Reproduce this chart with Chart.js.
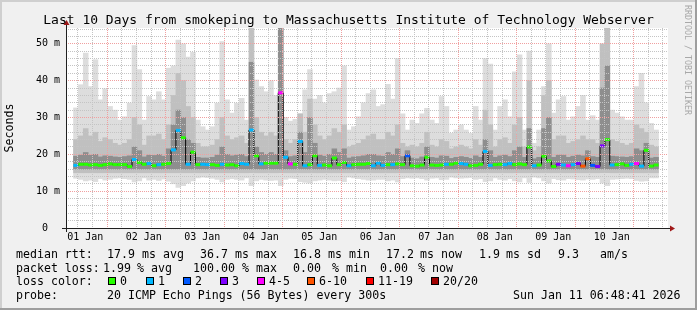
<!DOCTYPE html>
<html>
<head>
<meta charset="utf-8">
<script src="https://cdn.jsdelivr.net/npm/chart.js@4/dist/chart.umd.min.js"></script>
<style>
  html, body { margin: 0; padding: 0; background: #f0f0f0; }
  #wrap { position: relative; width: 697px; height: 310px; overflow: hidden; }
  #wrap canvas { position: absolute; left: 0; top: 0; }
  .t { position: absolute; font-family: "DejaVu Sans Mono", monospace; font-size: 11.6px; line-height: 14px; color: #000; white-space: pre; }
  #title { left: 0; width: 697px; top: 12px; text-align: center; font-size: 13px; line-height: 15px; }
  #credit { position: absolute; left: 683px; top: 5px; writing-mode: vertical-rl; font: 8.3px "DejaVu Sans Mono", monospace; color: #a8a8a8; white-space: pre; }
  .box { position: absolute; top: 277px; width: 6px; height: 6px; border: 1px solid #000; }
</style>
</head>
<body>
<div id="wrap">
  <canvas id="c" width="697" height="310"></canvas>
  <div class="t" id="title">Last 10 Days from smokeping to Massachusetts Institute of Technology Webserver</div>
  <div id="credit">RRDTOOL / TOBI OETIKER</div>

  <div class="t" style="left:16px;top:247px">median rtt:</div>
  <div class="t" style="left:107px;top:247px">17.9</div>
  <div class="t" style="left:142px;top:247px">ms avg</div>
  <div class="t" style="left:200px;top:247px">36.7</div>
  <div class="t" style="left:235px;top:247px">ms max</div>
  <div class="t" style="left:293px;top:247px">16.8</div>
  <div class="t" style="left:328px;top:247px">ms min</div>
  <div class="t" style="left:386px;top:247px">17.2</div>
  <div class="t" style="left:420px;top:247px">ms now</div>
  <div class="t" style="left:479px;top:247px">1.9</div>
  <div class="t" style="left:506px;top:247px">ms sd</div>
  <div class="t" style="left:558px;top:247px">9.3</div>
  <div class="t" style="left:600px;top:247px">am/s</div>

  <div class="t" style="left:16px;top:261px">packet loss:</div>
  <div class="t" style="left:103px;top:261px">1.99</div>
  <div class="t" style="left:137px;top:261px">% avg</div>
  <div class="t" style="left:193px;top:261px">100.00</div>
  <div class="t" style="left:242px;top:261px">% max</div>
  <div class="t" style="left:293px;top:261px">0.00</div>
  <div class="t" style="left:332px;top:261px">% min</div>
  <div class="t" style="left:380px;top:261px">0.00</div>
  <div class="t" style="left:418px;top:261px">% now</div>

  <div class="t" style="left:16px;top:274px">loss color:</div>
  <div id="losslegend"></div>

  <div class="t" style="left:16px;top:288px">probe:</div>
  <div class="t" style="left:107px;top:288px">20 ICMP Echo Pings (56 Bytes) every 300s</div>
  <div class="t" style="left:513px;top:288px">Sun Jan 11 06:48:41 2026</div>
</div>
<script>
// 120 bins of 2 h each, starting 01 Jan 07:12
const dayLabels = ['01 Jan', '02 Jan', '03 Jan', '04 Jan', '05 Jan', '06 Jan', '07 Jan', '08 Jan', '09 Jan', '10 Jan'];
const yTicks = [0, 2, 4, 6, 8, 10, 12, 14, 16, 18, 20, 22, 24, 26, 28, 30, 32, 34, 36, 38, 40, 42, 44, 46, 48, 50, 52, 54];

// median rtt (ms)
const median = [
  17.0, 17.3, 17.3, 17.1, 17.2, 17.0, 17.2, 17.4, 17.2, 17.2,
  17.2, 16.7, 18.6, 17.8, 17.3, 17.5, 16.9, 17.2, 17.3, 17.5,
  21.2, 26.5, 24.5, 17.3, 20.6, 17.2, 17.3, 17.2, 17.2, 17.0,
  17.3, 17.1, 17.2, 16.9, 17.5, 17.3, 26.6, 19.6, 17.4, 17.6,
  17.6, 17.6, 36.7, 19.2, 17.4, 17.3, 23.5, 16.9, 17.2, 19.6,
  17.0, 17.1, 16.9, 19.0, 17.2, 17.8, 16.9, 17.2, 17.3, 17.3,
  17.5, 16.9, 17.6, 17.0, 17.2, 17.2, 17.4, 17.2, 19.6, 16.9,
  16.8, 17.1, 19.2, 17.1, 17.0, 17.1, 17.3, 17.3, 17.6, 17.5,
  17.3, 16.9, 17.0, 17.3, 20.8, 17.0, 17.2, 17.3, 17.2, 17.5,
  17.2, 17.4, 17.2, 22.0, 16.9, 17.1, 19.5, 18.2, 16.7, 17.3,
  17.1, 16.9, 17.2, 17.5, 16.8, 18.8, 17.0, 16.7, 22.3, 24.0,
  17.1, 17.2, 17.4, 17.0, 17.3, 17.5, 16.8, 21.1, 16.8, 17.1
];
// loss class per bin: 0 | 1 | 2 | 3 | 4-5 | 6-10 | 11-19 | 20/20
const loss = [
  1, 0, 0, 0, 0, 0, 0, 0, 0, 0,
  0, 0, 1, 0, 0, 1, 0, 1, 0, 0,
  1, 1, 0, 1, 0, 0, 1, 1, 0, 0,
  1, 0, 0, 0, 1, 1, 1, 0, 1, 0,
  0, 0, 4, 1, 4, 0, 1, 1, 0, 0,
  1, 0, 0, 0, 0, 0, 1, 0, 0, 0,
  0, 1, 1, 1, 0, 1, 0, 0, 2, 0,
  0, 0, 0, 0, 0, 0, 1, 0, 0, 1,
  1, 0, 0, 0, 1, 1, 0, 0, 1, 1,
  0, 0, 0, 0, 1, 0, 0, 0, 0, 3,
  1, 4, 1, 3, 5, 5, 2, 3, 3, 0,
  1, 0, 0, 0, 1, 4, 1, 0, 0, 0
];
// smoke: outer (lightest) top
const smokeMax = [
  32.6, 38.9, 47.5, 38.4, 45.7, 34.8, 37.8, 33.0, 32.0, 29.3,
  30.2, 33.9, 49.5, 43.0, 29.3, 35.7, 34.8, 37.0, 34.8, 43.4,
  44.0, 51.0, 50.0, 46.4, 47.7, 29.3, 27.5, 26.6, 27.5, 33.9,
  50.6, 34.8, 31.2, 33.9, 35.2, 29.3, 54.3, 40.2, 38.4, 37.0,
  40.0, 36.0, 54.3, 30.0, 29.0, 29.5, 31.0, 37.5, 43.0, 35.0,
  36.0, 34.0, 36.5, 37.0, 38.0, 44.0, 26.6, 27.5, 30.2, 34.0,
  36.5, 37.5, 33.0, 33.5, 39.0, 35.0, 46.0, 31.0, 26.6, 29.3,
  28.4, 31.0, 32.5, 29.3, 28.4, 35.7, 33.0, 25.7, 26.6, 28.0,
  26.6, 25.7, 33.0, 29.3, 46.0, 44.5, 26.6, 33.0, 34.8, 30.2,
  42.4, 47.0, 26.6, 48.0, 23.0, 26.6, 38.4, 50.0, 31.2, 34.8,
  35.7, 29.3, 30.2, 33.0, 36.0, 29.3, 30.5, 29.3, 30.2, 54.3,
  32.0, 31.2, 30.2, 29.3, 29.3, 38.4, 42.0, 34.0, 28.4, 26.6
];
// smoke: middle band top
const smokeMid = [
  24.0, 25.0, 27.0, 25.0, 26.0, 23.5, 24.5, 24.0, 23.0, 22.5,
  23.0, 24.0, 30.0, 28.0, 22.5, 25.0, 25.0, 25.5, 24.0, 28.0,
  36.0, 42.0, 40.0, 33.0, 30.0, 23.0, 22.0, 22.0, 22.5, 24.0,
  30.0, 25.0, 24.0, 24.5, 25.0, 23.0, 54.3, 30.0, 26.0, 25.0,
  26.0, 25.0, 54.3, 24.0, 23.0, 24.0, 31.0, 26.0, 35.0, 28.0,
  25.0, 24.0, 25.0, 27.0, 26.0, 28.0, 22.0, 22.5, 23.0, 24.0,
  25.0, 25.5, 24.0, 24.0, 26.0, 25.0, 28.0, 23.0, 22.0, 22.5,
  22.0, 23.0, 26.0, 22.5, 22.0, 24.0, 23.5, 21.5, 22.0, 22.5,
  22.0, 21.5, 24.0, 22.5, 32.0, 28.0, 22.0, 24.0, 24.5, 23.0,
  28.0, 30.0, 22.0, 40.0, 21.0, 22.0, 36.0, 40.0, 24.0, 25.0,
  25.0, 23.0, 23.5, 24.0, 25.0, 24.0, 24.0, 23.0, 50.0, 54.3,
  24.0, 23.5, 23.0, 22.5, 23.0, 28.0, 27.0, 26.0, 22.5, 22.0
];
// smoke: dark inner band top
const smokeDark = [
  19.5, 19.8, 20.5, 19.8, 20.0, 19.3, 19.6, 19.5, 19.3, 19.2,
  19.4, 19.6, 22.0, 21.0, 19.3, 19.8, 19.7, 20.0, 19.5, 21.5,
  28.0, 32.0, 30.0, 24.0, 23.0, 19.2, 19.0, 19.0, 19.2, 19.8,
  22.0, 20.0, 19.6, 19.8, 20.0, 19.4, 45.0, 22.0, 20.5, 20.0,
  20.5, 20.0, 54.3, 21.0, 19.4, 19.6, 26.0, 20.5, 30.0, 23.0,
  19.8, 19.5, 20.0, 21.5, 20.5, 21.5, 19.0, 19.3, 19.4, 19.6,
  20.0, 20.0, 19.6, 19.5, 20.5, 20.0, 21.5, 19.4, 21.0, 19.0,
  18.8, 19.3, 22.0, 19.2, 19.0, 19.6, 19.5, 18.9, 19.2, 19.4,
  19.2, 18.9, 19.6, 19.2, 24.0, 21.0, 19.2, 19.6, 19.8, 19.4,
  21.0, 22.0, 19.2, 27.0, 18.8, 19.2, 27.0, 30.0, 19.2, 19.8,
  19.8, 19.2, 19.5, 19.8, 19.6, 21.0, 19.4, 19.2, 38.0, 44.0,
  19.5, 19.4, 19.3, 19.2, 19.4, 21.5, 21.0, 23.0, 19.0, 19.2
];
// smoke: lowest ping per bin
const smokeLo = [
  13.5, 13.2, 12.8, 13.0, 12.6, 13.4, 13.0, 13.2, 13.5, 13.6,
  13.4, 13.2, 12.5, 12.8, 13.6, 13.0, 13.2, 12.9, 13.3, 12.7,
  12.0, 11.0, 11.5, 12.2, 12.8, 13.6, 13.8, 13.7, 13.5, 13.2,
  12.5, 13.2, 13.4, 13.2, 13.0, 13.6, 11.5, 12.8, 13.2, 13.0,
  12.9, 13.0, 11.5, 13.2, 13.5, 13.4, 12.6, 12.4, 12.2, 12.8,
  13.0, 13.2, 13.0, 12.8, 12.9, 12.6, 13.8, 13.6, 13.4, 13.2,
  13.0, 13.0, 13.2, 13.2, 12.8, 13.0, 12.5, 13.4, 13.6, 13.5,
  13.6, 13.4, 13.0, 13.5, 13.6, 13.1, 13.2, 13.8, 13.6, 13.5,
  13.6, 13.7, 13.2, 13.4, 12.6, 12.8, 13.6, 13.2, 13.0, 13.4,
  12.8, 12.5, 13.6, 12.4, 13.8, 13.6, 12.8, 12.2, 13.4, 13.1,
  13.0, 13.4, 13.3, 13.1, 13.0, 13.3, 13.2, 13.4, 12.2, 11.5,
  13.2, 13.3, 13.4, 13.5, 13.4, 12.9, 12.7, 12.8, 13.6, 13.6
];
const MID_FLOOR = 15.0;
const DARK_FLOOR = 16.0;

const lossColors = ['#26ff00', '#00b8ff', '#0059ff', '#7e00ff', '#ff00ff', '#ff5500', '#ff0000', '#a00000'];
const lossNames = ['0', '1', '2', '3', '4-5', '6-10', '11-19', '20/20'];
const lossBoxX = [108, 146, 183, 220, 257, 307, 366, 431];

// legend boxes
const lg = document.getElementById('losslegend');
lossNames.forEach((name, i) => {
  const b = document.createElement('div');
  b.className = 'box';
  b.style.left = lossBoxX[i] + 'px';
  b.style.background = lossColors[i];
  lg.appendChild(b);
  const t = document.createElement('div');
  t.className = 't';
  t.style.left = (lossBoxX[i] + 12) + 'px';
  t.style.top = '274px';
  t.textContent = name;
  lg.appendChild(t);
});

const binHour = median.map((_, i) => 2 * i + 1);
const band = (lo, hi) => hi.map((h, i) => ({ x: binHour[i], y: [Array.isArray(lo) ? lo[i] : lo, h] }));
const MONO = '"DejaVu Sans Mono", monospace';

const rrdFrame = {
  id: 'rrdFrame',
  beforeDraw(chart) {
    const { ctx, chartArea: a, width, height } = chart;
    ctx.save();
    ctx.fillStyle = '#f0f0f0';
    ctx.fillRect(0, 0, width, height);
    ctx.fillStyle = '#cfcfcf';
    ctx.fillRect(0, 0, width, 2);
    ctx.fillRect(0, 0, 2, height);
    ctx.fillStyle = '#9e9e9e';
    ctx.fillRect(0, height - 2, width, 2);
    ctx.fillRect(width - 2, 0, 2, height);
    ctx.fillStyle = '#ffffff';
    ctx.fillRect(a.left, a.top, a.right - a.left, a.bottom - a.top);
    ctx.restore();
  },
  afterDraw(chart) {
    const { ctx, chartArea: a } = chart;
    const x0 = a.left + 0.5, y0 = a.bottom + 0.5;
    ctx.save();
    ctx.strokeStyle = '#202020';
    ctx.lineWidth = 1;
    ctx.beginPath();
    ctx.moveTo(a.left - 4, y0); ctx.lineTo(a.right + 3, y0);
    ctx.moveTo(x0, a.bottom + 4); ctx.lineTo(x0, a.top - 4);
    ctx.stroke();
    ctx.fillStyle = '#a01818';
    ctx.beginPath();
    ctx.moveTo(x0 - 3, a.top - 3); ctx.lineTo(x0 + 3, a.top - 3); ctx.lineTo(x0, a.top - 8);
    ctx.closePath(); ctx.fill();
    ctx.beginPath();
    ctx.moveTo(a.right + 2, y0 - 3); ctx.lineTo(a.right + 2, y0 + 3); ctx.lineTo(a.right + 7, y0);
    ctx.closePath(); ctx.fill();
    ctx.restore();
  }
};

const barDefaults = { type: 'bar', grouped: false, barPercentage: 1, categoryPercentage: 1, borderWidth: 0 };

new Chart(document.getElementById('c'), {
  type: 'bar',
  data: {
    datasets: [
      {
        type: 'line',
        order: 0,
        data: median.map((v, i) => ({ x: binHour[i], y: v })),
        stepped: 'middle',
        borderColor: '#000',
        borderWidth: 1,
        fill: false,
        pointStyle: 'line',
        pointRadius: 2.5,
        pointBorderWidth: 3,
        pointBorderColor: loss.map(l => lossColors[l]),
        pointBackgroundColor: loss.map(l => lossColors[l])
      },
      { ...barDefaults, order: 2, data: band(DARK_FLOOR, smokeDark), backgroundColor: '#8e8e8e' },
      { ...barDefaults, order: 3, data: band(MID_FLOOR, smokeMid), backgroundColor: '#c0c0c0' },
      { ...barDefaults, order: 4, data: band(smokeLo, smokeMax), backgroundColor: '#dddddd' }
    ]
  },
  options: {
    responsive: false,
    animation: false,
    events: [],
    layout: { padding: { left: 0, right: 29, top: 28, bottom: 0 } },
    plugins: { legend: { display: false }, tooltip: { enabled: false }, title: { display: false } },
    scales: {
      x: {
        type: 'linear',
        min: 0,
        max: 240.8,
        afterBuildTicks: (s) => {
          const t = [];
          for (let k = 0; 4.8 + 6 * k <= 240.8; k++) t.push({ value: 4.8 + 6 * k });
          s.ticks = t;
        },
        afterFit: (s) => { s.height = 82; },
        grid: {
          z: 1,
          drawTicks: false,
          color: (c) => (c.index % 4 === 2 ? '#f0a0a0' : '#c4c4c4')
        },
        border: { display: false, dash: [1, 1] },
        ticks: {
          autoSkip: false,
          maxRotation: 0,
          padding: 3,
          color: '#000',
          font: { family: MONO, size: 10 },
          callback: (v, i) => (i % 4 === 0 ? dayLabels[i / 4] : '')
        }
      },
      y: {
        min: 0,
        max: 54.3,
        afterBuildTicks: (s) => { s.ticks = yTicks.map(v => ({ value: v })); },
        afterFit: (s) => { s.width = 66; },
        grid: {
          z: 1,
          drawTicks: false,
          color: (c) => (c.tick && c.tick.value % 10 === 0 ? '#f0a0a0' : '#c4c4c4')
        },
        border: { display: false, dash: [1, 1] },
        title: { display: true, text: 'Seconds', color: '#000', font: { family: MONO, size: 11.6 }, padding: { top: 3, bottom: 0 } },
        ticks: {
          autoSkip: false,
          padding: 6,
          color: '#000',
          font: { family: MONO, size: 10 },
          callback: (v) => (v % 10 !== 0 ? '' : v === 0 ? '0  ' : v + ' m')
        }
      }
    }
  },
  plugins: [rrdFrame]
});
</script>
</body>
</html>
